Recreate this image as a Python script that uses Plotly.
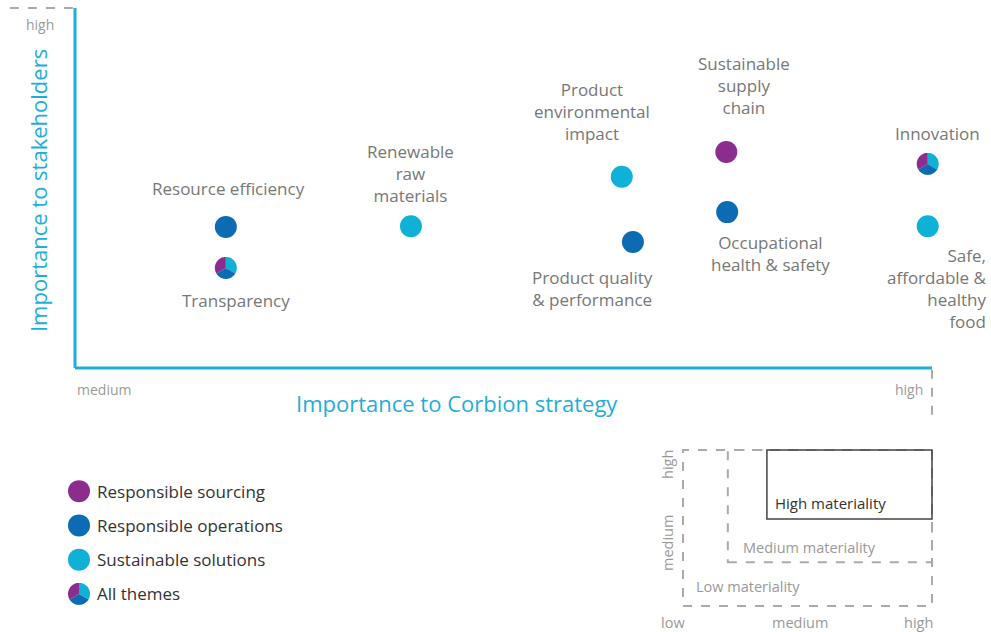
import math
import plotly.graph_objects as go

# ---------------- data ----------------
topics = ["Resource efficiency", "Transparency", "Renewable raw materials",
          "Product environmental impact", "Product quality & performance",
          "Sustainable supply chain", "Occupational health & safety",
          "Innovation", "Safe, affordable & healthy food"]
corbion_strategy = [17.6, 17.6, 39.2, 63.8, 65.1, 76.0, 76.1, 99.5, 99.5]
stakeholders = [39.2, 27.8, 39.4, 53.1, 35.0, 60.0, 43.3, 56.7, 39.4]
theme = ["Responsible operations", "All themes", "Sustainable solutions",
         "Sustainable solutions", "Responsible operations", "Responsible sourcing",
         "Responsible operations", "All themes", "Sustainable solutions"]

legend_items = ["Responsible sourcing", "Responsible operations",
                "Sustainable solutions", "All themes"]

materiality_levels = ["Low materiality", "Medium materiality", "High materiality"]
materiality_x0 = [0.0, 0.18, 0.337]
materiality_y0 = [0.0, 0.28, 0.558]

axis_x_ticks = ["medium", "high"]
axis_y_ticks = ["high"]
inset_x_ticks = ["low", "medium", "high"]
inset_y_ticks = ["high", "medium"]

# ---------------- styles ----------------
COL = {"Responsible sourcing": "#8C2C8E",
       "Responsible operations": "#0B6CB3",
       "Sustainable solutions": "#0FB1D6"}
AXIS_COL = "#1FAEDA"
LABEL_COL = "#777777"
TICK_COL = "#9A9A9A"
FONT = "Open Sans"
W, H = 991, 632
MARKER = 22

label_text = {
    "Resource efficiency": "Resource efficiency",
    "Transparency": "Transparency",
    "Renewable raw materials": "Renewable<br>raw<br>materials",
    "Product environmental impact": "Product<br>environmental<br>impact",
    "Product quality & performance": "Product quality<br>& performance",
    "Sustainable supply chain": "Sustainable<br>supply<br>chain",
    "Occupational health & safety": "Occupational<br>health & safety",
    "Innovation": "Innovation",
    "Safe, affordable & healthy food": "Safe,<br>affordable &<br>healthy<br>food",
}
# (xshift, yshift, xanchor, align) in pixels relative to the point
label_pos = {
    "Resource efficiency": (3, 38, "center", "center"),
    "Transparency": (10, -33, "center", "center"),
    "Renewable raw materials": (0, 53, "center", "center"),
    "Product environmental impact": (-30, 65, "center", "center"),
    "Product quality & performance": (-40, -46, "center", "center"),
    "Sustainable supply chain": (18, 67, "center", "center"),
    "Occupational health & safety": (43, -41, "center", "center"),
    "Innovation": (10, 30, "center", "center"),
    "Safe, affordable & healthy food": (61, -62, "right", "right"),
}
# inset label offsets (xshift, yshift) from each box's lower-left corner
inset_label_shift = {"Low materiality": (11, 8),
                     "Medium materiality": (13, 3),
                     "High materiality": (6, 4)}

# main axis: data 0..100 maps onto pixel box x 75..932, y 368..8
PX0, PX1, PY0, PY1 = 75, 932, 368, 8
sx = (PX1 - PX0) / 100.0
sy = (PY0 - PY1) / 100.0
x_range = [-PX0 / sx, (W - PX0) / sx]
y_range = [(PY0 - H) / sy, PY0 / sy]


def pie_path(a0, a1, r, n=30):
    pts = ["M 0,0"]
    for i in range(n + 1):
        a = math.radians(a0 + (a1 - a0) * i / n)
        pts.append(f"L {r * math.sin(a):.3f},{r * math.cos(a):.3f}")
    pts.append("Z")
    return " ".join(pts)


slices = [("Sustainable solutions", 0, 120),
          ("Responsible operations", 120, 240),
          ("Responsible sourcing", 240, 360)]


def pie_shapes(xv, yv, xref, yref):
    out = []
    for name, a0, a1 in slices:
        out.append(dict(type="path", xref=xref, yref=yref,
                        xsizemode="pixel", ysizemode="pixel",
                        xanchor=xv, yanchor=yv,
                        path=pie_path(a0, a1, MARKER / 2),
                        fillcolor=COL[name], line=dict(width=0), layer="above"))
    return out


fig = go.Figure()

for name in ["Responsible sourcing", "Responsible operations", "Sustainable solutions"]:
    xs = [x for x, t in zip(corbion_strategy, theme) if t == name]
    ys = [y for y, t in zip(stakeholders, theme) if t == name]
    fig.add_trace(go.Scatter(x=xs, y=ys, mode="markers", name=name,
                             marker=dict(size=MARKER, color=COL[name], line=dict(width=0)),
                             xaxis="x", yaxis="y", hoverinfo="skip"))

shapes = []
shapes.append(dict(type="line", xref="x", yref="y", x0=0, x1=100, y0=0, y1=0,
                   line=dict(color=AXIS_COL, width=3)))
shapes.append(dict(type="line", xref="x", yref="y", x0=0, x1=0, y0=0, y1=100,
                   line=dict(color=AXIS_COL, width=3)))
shapes.append(dict(type="line", xref="x", yref="y", x0=-7.6, x1=-0.2, y0=100, y1=100,
                   line=dict(color="#AAAAAA", width=2, dash="dash")))
shapes.append(dict(type="line", xref="x", yref="y", x0=100, x1=100, y0=-0.5, y1=-14,
                   line=dict(color="#AAAAAA", width=2, dash="dash")))

for x, y, t in zip(corbion_strategy, stakeholders, theme):
    if t == "All themes":
        shapes += pie_shapes(x, y, "x", "y")

annotations = []
for tp, x, y in zip(topics, corbion_strategy, stakeholders):
    xs_, ys_, xa, al = label_pos[tp]
    annotations.append(dict(x=x, y=y, xref="x", yref="y", text=label_text[tp],
                            showarrow=False, xshift=xs_, yshift=ys_, xanchor=xa,
                            yanchor="middle", align=al,
                            font=dict(family=FONT, size=17, color=LABEL_COL)))

annotations.append(dict(x=44.6, y=-9.7, xref="x", yref="y",
                        text="Importance to Corbion strategy", showarrow=False,
                        xanchor="center", yanchor="middle",
                        font=dict(family=FONT, size=22, color=AXIS_COL)))
annotations.append(dict(x=-4.3, y=49.2, xref="x", yref="y", textangle=-90,
                        text="Importance to stakeholders", showarrow=False,
                        xanchor="center", yanchor="middle",
                        font=dict(family=FONT, size=22, color=AXIS_COL)))
annotations.append(dict(x=0, y=-6.1, xref="x", yref="y", text=axis_x_ticks[0],
                        xanchor="left", yanchor="middle", showarrow=False,
                        font=dict(family=FONT, size=14, color=TICK_COL)))
annotations.append(dict(x=99.2, y=-6.1, xref="x", yref="y", text=axis_x_ticks[1],
                        xanchor="right", yanchor="middle", showarrow=False,
                        font=dict(family=FONT, size=14, color=TICK_COL)))
annotations.append(dict(x=-4.1, y=95.5, xref="x", yref="y", text=axis_y_ticks[0],
                        xanchor="center", yanchor="middle", showarrow=False,
                        font=dict(family=FONT, size=14, color=TICK_COL)))

# ---------------- legend (own axis) ----------------
leg_dom_x = [60 / W, 300 / W]
leg_dom_y = [1 - 611 / H, 1 - 474 / H]
for i, item in enumerate(legend_items):
    if item in COL:
        fig.add_trace(go.Scatter(x=[0], y=[i], mode="markers", showlegend=False,
                                 marker=dict(size=MARKER, color=COL[item], line=dict(width=0)),
                                 xaxis="x2", yaxis="y2", hoverinfo="skip"))
    else:
        shapes += pie_shapes(0, i, "x2", "y2")
    annotations.append(dict(x=0, y=i, xref="x2", yref="y2", text=item, xshift=16,
                            xanchor="left", yanchor="middle", showarrow=False,
                            font=dict(family=FONT, size=17, color="#333333")))

# ---------------- materiality inset ----------------
ins_dom_x = [673 / W, 942 / W]
ins_dom_y = [1 - 616 / H, 1 - 440 / H]
ins_xr = [-10 / 249, 1 + 10 / 249]
ins_yr = [-10 / 156, 1 + 10 / 156]
for lvl, x0, y0 in zip(materiality_levels, materiality_x0, materiality_y0):
    high = lvl.startswith("High")
    shapes.append(dict(type="rect", xref="x3", yref="y3", x0=x0, x1=1, y0=y0, y1=1,
                       line=dict(color="#444444" if high else "#AAAAAA",
                                 width=1.5 if high else 2,
                                 dash="solid" if high else "dash")))
    dx, dy = inset_label_shift[lvl]
    annotations.append(dict(x=x0, y=y0, xref="x3", yref="y3", text=lvl,
                            xanchor="left", yanchor="bottom", showarrow=False,
                            xshift=dx, yshift=dy,
                            font=dict(family=FONT, size=15 if high else 14.5,
                                      color="#333333" if high else "#999999")))

ins_tick_px = [673, 800, 918]
for t, px in zip(inset_x_ticks, ins_tick_px):
    annotations.append(dict(x=px / W, y=1 - 622 / H, xref="paper", yref="paper", text=t,
                            xanchor="center", yanchor="middle", showarrow=False,
                            font=dict(family=FONT, size=14.5, color="#999999")))
for t, py in zip(inset_y_ticks, [465, 543]):
    annotations.append(dict(x=667 / W, y=1 - py / H, xref="paper", yref="paper", text=t,
                            textangle=-90, xanchor="center", yanchor="middle",
                            showarrow=False,
                            font=dict(family=FONT, size=14.5, color="#999999")))

hidden = dict(visible=False, showgrid=False, zeroline=False, fixedrange=True)
fig.update_layout(
    width=W, height=H, margin=dict(l=0, r=0, t=0, b=0),
    paper_bgcolor="white", plot_bgcolor="white", showlegend=False,
    xaxis=dict(domain=[0, 1], range=x_range, **hidden),
    yaxis=dict(domain=[0, 1], range=y_range, **hidden),
    xaxis2=dict(domain=leg_dom_x, range=[-19, 221], anchor="y2", **hidden),
    yaxis2=dict(domain=leg_dom_y, range=[3.5, -0.5], anchor="x2", **hidden),
    xaxis3=dict(domain=ins_dom_x, range=ins_xr, anchor="y3", **hidden),
    yaxis3=dict(domain=ins_dom_y, range=ins_yr, anchor="x3", **hidden),
    shapes=shapes, annotations=annotations,
)

fig.write_html("out.html", config={"displayModeBar": False},
               post_script="document.body.style.margin='0px';"
                           "document.body.style.overflow='hidden';")
